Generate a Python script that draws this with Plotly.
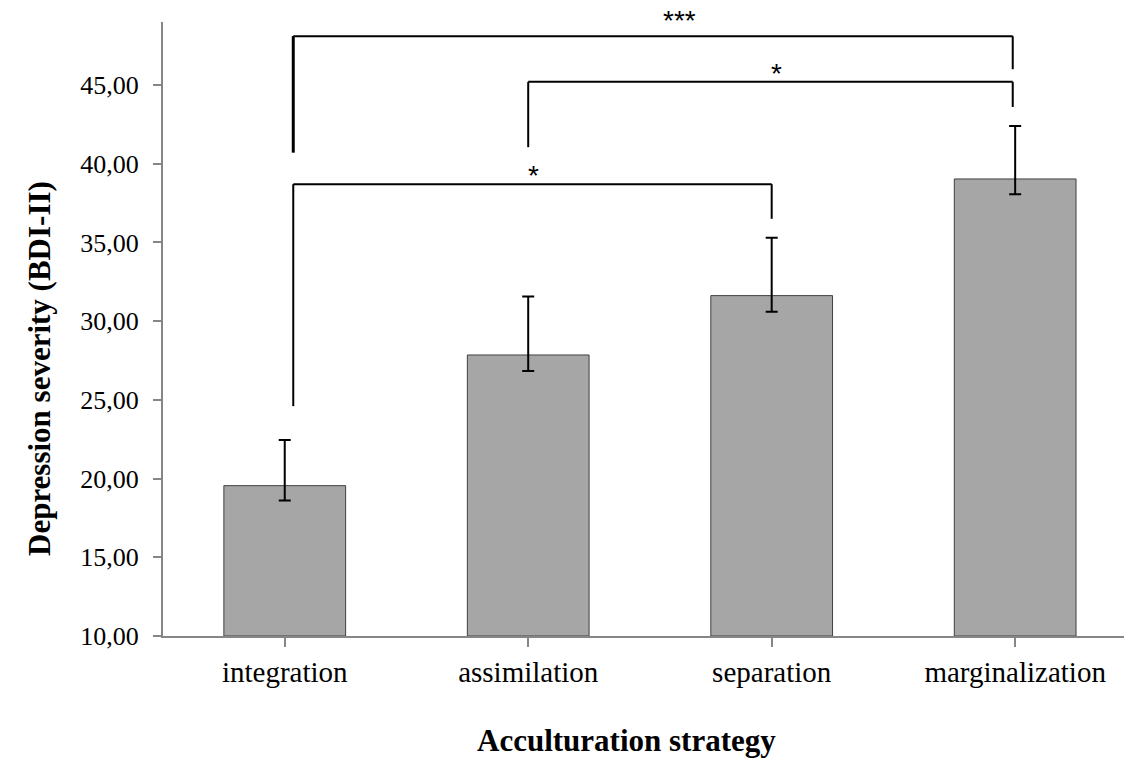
import plotly.graph_objects as go

categories = ["integration", "assimilation", "separation", "marginalization"]
means = [19.55, 27.85, 31.62, 39.03]
err_upper = [22.45, 31.56, 35.30, 42.40]
err_lower = [18.60, 26.84, 30.60, 38.06]

y_ticks = [10, 15, 20, 25, 30, 35, 40, 45]

# significance brackets (category index positions, data values)
br_left = [0.035, 1.0, 0.035]
br_right = [2.99, 2.99, 2.0]
br_top = [48.1, 45.2, 38.7]
br_left_bottom = [40.7, 41.05, 24.6]
br_right_bottom = [46.0, 43.6, 36.5]
br_label = ["***", "*", "*"]
br_label_x = [1.62, 2.02, 1.02]
br_label_shift = [16, 8, 9]
br_left_width = [3, 2, 2]

plus = [u - m for u, m in zip(err_upper, means)]
minus = [m - l for m, l in zip(means, err_lower)]

fig = go.Figure()
fig.add_trace(go.Bar(
    x=list(range(len(categories))), y=[m - 10 for m in means], base=10,
    marker=dict(color="#A6A6A6", line=dict(color="#404040", width=1)),
    width=0.5,
    error_y=dict(type="data", symmetric=False, array=plus, arrayminus=minus,
                 color="black", thickness=2, width=6),
    hoverinfo="skip",
))

shapes = []
for i in range(len(br_label)):
    shapes.append(dict(type="line", xref="x", yref="y", x0=br_left[i], x1=br_right[i],
                       y0=br_top[i], y1=br_top[i], line=dict(color="black", width=2)))
    shapes.append(dict(type="line", xref="x", yref="y", x0=br_left[i], x1=br_left[i],
                       y0=br_left_bottom[i], y1=br_top[i],
                       line=dict(color="black", width=br_left_width[i])))
    shapes.append(dict(type="line", xref="x", yref="y", x0=br_right[i], x1=br_right[i],
                       y0=br_right_bottom[i], y1=br_top[i], line=dict(color="black", width=2)))

annotations = []
for i in range(len(br_label)):
    annotations.append(dict(x=br_label_x[i], y=br_top[i], xref="x", yref="y",
                            yshift=br_label_shift[i],
                            text=br_label[i], showarrow=False, yanchor="middle",
                            font=dict(family="Liberation Sans", size=28, color="black")))

annotations.append(dict(x=0.4823, y=-0.171, xref="paper", yref="paper",
                        text="<b>Acculturation strategy</b>", showarrow=False,
                        xanchor="center", yanchor="middle",
                        font=dict(family="Liberation Serif", size=31, color="black")))
annotations.append(dict(x=-0.128, y=0.4365, xref="paper", yref="paper",
                        text="<b>Depression severity (BDI-II)</b>", showarrow=False,
                        textangle=-90, xanchor="center", yanchor="middle",
                        font=dict(family="Liberation Serif", size=31, color="black")))

fig.update_layout(
    width=1124, height=759,
    margin=dict(l=163, r=0, t=22, b=123),
    paper_bgcolor="white", plot_bgcolor="white",
    separators=",.",
    showlegend=False,
    shapes=shapes,
    annotations=annotations,
    xaxis=dict(
        range=[-0.5, 3.447],
        tickmode="array", tickvals=list(range(len(categories))), ticktext=categories,
        tickson="boundaries", ticks="outside", ticklen=9, tickwidth=2, tickcolor="#868686",
        showline=True, linecolor="#868686", linewidth=2,
        showgrid=False, zeroline=False,
        tickfont=dict(family="Liberation Serif", size=29, color="black"),
        ticklabelstandoff=0,
    ),
    yaxis=dict(
        range=[10, 49.0],
        tickmode="array", tickvals=y_ticks, tickformat=".2f",
        ticks="outside", ticklen=8, tickwidth=2, tickcolor="#868686",
        showline=True, linecolor="#868686", linewidth=2,
        showgrid=False, zeroline=False,
        tickfont=dict(family="Liberation Serif", size=26, color="black"),
        ticklabelstandoff=9,
    ),
)

fig.write_html("out.html")
